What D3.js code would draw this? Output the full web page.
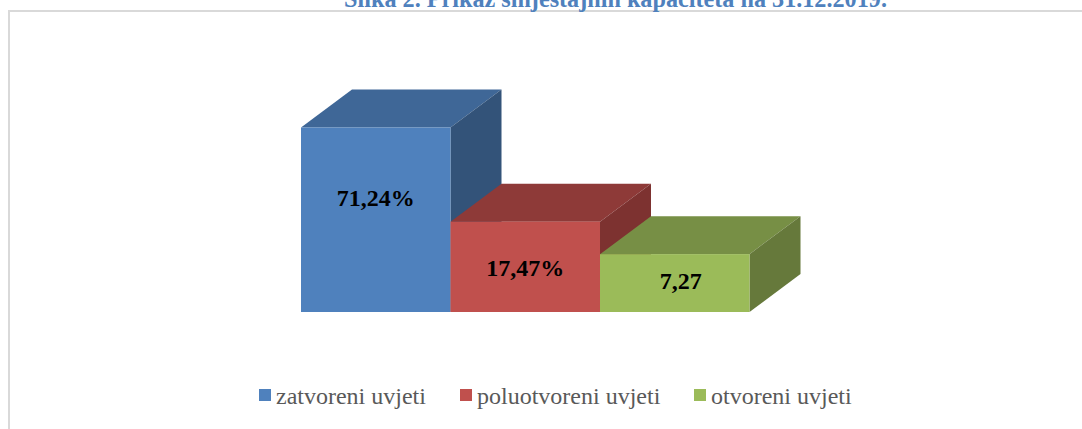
<!DOCTYPE html>
<html>
<head>
<meta charset="utf-8">
<script src="https://d3js.org/d3.v7.min.js"></script>
<style>
  html, body { margin: 0; padding: 0; background: #fff; overflow: hidden; }
  text { font-family: "Liberation Serif", serif; }
</style>
</head>
<body>
<div id="chart"></div>
<script>
// Chart data
const categories = ["zatvoreni uvjeti", "poluotvoreni uvjeti", "otvoreni uvjeti"];
const values = [71.24, 17.47, 7.27];
const valueLabels = ["71,24%", "17,47%", "7,27"];
const titleText = "Slika 2. Prikaz smještajnih kapaciteta na 31.12.2019.";

const frontColors = ["#4f81bd", "#c0504d", "#9bbb59"];
const topColors = ["#3f6797", "#8e3a38", "#778f45"];
const sideColors = ["#335379", "#7d3230", "#66793b"];

const width = 1082, height = 429;
const baseY = 312, topY = 127.5;
const depthX = 51, depthY = 38;

const svg = d3.select("#chart")
  .append("svg")
    .attr("width", width)
    .attr("height", height);

// Frame of the chart, cut off at the right and bottom of the picture
svg.append("path")
  .attr("d", d3.line()([[9, height], [9, 11], [width, 11]]))
  .attr("fill", "none")
  .attr("stroke", "#d9d9d9")
  .attr("stroke-width", 2);

// Title, also cut off at the top
svg.append("text")
  .attr("x", 615.5)
  .attr("y", 7)
  .attr("text-anchor", "middle")
  .attr("font-size", 24.2)
  .attr("font-weight", "bold")
  .attr("fill", "#4f81bd")
  .text(titleText);

const x = d3.scaleBand()
  .domain(categories)
  .range([301, 749.5]);

// The bars in the picture are not proportional to their labels, a root-like scale fits them
const y = d3.scalePow()
  .exponent(0.508)
  .domain([0, d3.max(values)])
  .range([baseY, topY]);

const line = d3.line();
const bars = svg.selectAll("g.bar")
  .data(categories)
  .join("g")
    .attr("class", "bar");

// Top face
bars.append("path")
  .attr("fill", (d, i) => topColors[i])
  .attr("d", (d, i) => {
    const x0 = x(d), x1 = x0 + x.bandwidth(), yt = y(values[i]);
    return line([[x0, yt], [x0 + depthX, yt - depthY], [x1 + depthX, yt - depthY], [x1, yt]]) + "Z";
  });

// Side face
bars.append("path")
  .attr("fill", (d, i) => sideColors[i])
  .attr("d", (d, i) => {
    const x1 = x(d) + x.bandwidth(), yt = y(values[i]);
    return line([[x1, yt], [x1 + depthX, yt - depthY], [x1 + depthX, baseY - depthY], [x1, baseY]]) + "Z";
  });

// Front face
bars.append("rect")
  .attr("x", d => x(d))
  .attr("y", (d, i) => y(values[i]))
  .attr("width", x.bandwidth())
  .attr("height", (d, i) => baseY - y(values[i]))
  .attr("fill", (d, i) => frontColors[i]);

// Value labels were moved by hand in the original, so each has its own nudge
const labelNudgeX = [0, 0, 6];
const labelNudgeY = [-14, 9, 6];
bars.append("text")
  .attr("x", (d, i) => x(d) + x.bandwidth() / 2 + labelNudgeX[i])
  .attr("y", (d, i) => (y(values[i]) + baseY) / 2 + labelNudgeY[i])
  .attr("text-anchor", "middle")
  .attr("font-size", 24)
  .attr("font-weight", "bold")
  .attr("fill", "#000")
  .text((d, i) => valueLabels[i]);

// Legend
const legendX = d3.scaleOrdinal()
  .domain(categories)
  .range([259, 460, 694]);

const legend = svg.selectAll("g.legend")
  .data(categories)
  .join("g")
    .attr("class", "legend")
    .attr("transform", d => `translate(${legendX(d)},389)`);

legend.append("rect")
  .attr("width", 12)
  .attr("height", 12)
  .attr("fill", (d, i) => frontColors[i]);

legend.append("text")
  .attr("x", 17)
  .attr("y", 15)
  .attr("font-size", 24)
  .attr("fill", "#595959")
  .text(d => d);
</script>
</body>
</html>
